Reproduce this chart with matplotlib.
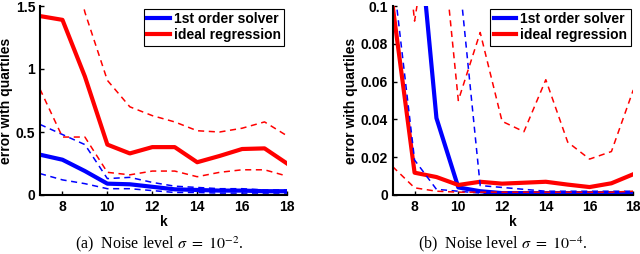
import numpy as np
import matplotlib.pyplot as plt

plt.rcParams['font.family'] = ['Liberation Sans', 'DejaVu Sans']
plt.rcParams['mathtext.fontset'] = 'stix'

k = [7, 8, 9, 10, 11, 12, 13, 14, 15, 16, 17, 18]

# --- (a) sigma = 1e-2 ---
a_blue_med = [0.32, 0.28, 0.19, 0.09, 0.085, 0.065, 0.045, 0.04, 0.035, 0.035, 0.03, 0.03]
a_blue_hi = [0.56, 0.48, 0.40, 0.13, 0.14, 0.10, 0.07, 0.06, 0.05, 0.05, 0.04, 0.04]
a_blue_lo = [0.17, 0.12, 0.09, 0.05, 0.05, 0.035, 0.02, 0.02, 0.015, 0.015, 0.015, 0.015]
a_red_med = [1.42, 1.39, 0.94, 0.40, 0.33, 0.38, 0.38, 0.26, 0.31, 0.365, 0.37, 0.25]
a_red_hi = [2.5, 2.2, 1.45, 0.91, 0.70, 0.63, 0.58, 0.51, 0.50, 0.53, 0.58, 0.47]
a_red_lo = [0.84, 0.46, 0.46, 0.18, 0.16, 0.19, 0.19, 0.145, 0.18, 0.20, 0.20, 0.15]

# --- (b) sigma = 1e-4 ---
b_blue_med = [0.30, 0.164, 0.0407, 0.004, 0.002, 0.001, 0.001, 0.001, 0.001, 0.001, 0.001, 0.001]
b_blue_hi = [0.5, 0.4, 0.3, 0.12, 0.005, 0.004, 0.003, 0.002, 0.002, 0.002, 0.002, 0.002]
b_blue_lo = [0.118, 0.0185, 0.003, 0.002, 0.001, 0.0005, 0.0005, 0.0005, 0.0005, 0.0005, 0.0005, 0.0005]
b_red_med = [0.1, 0.0118, 0.0095, 0.0053, 0.007, 0.006, 0.0065, 0.007, 0.0055, 0.0042, 0.0062, 0.011]
b_red_hi = [0.2, 0.092, 0.166, 0.05, 0.086, 0.039, 0.0335, 0.061, 0.028, 0.019, 0.023, 0.0556]
b_red_lo = [0.015, 0.0038, 0.002, 0.0015, 0.0015, 0.0015, 0.0015, 0.0015, 0.0015, 0.0015, 0.0015, 0.002]

captions = [r"(a)  Noise level $\sigma\ =\ 10^{-2}$.", r"(b)  Noise level $\sigma\ =\ 10^{-4}$."]

fig = plt.figure(figsize=(6.4, 2.54), dpi=100)
ax1 = fig.add_axes([40 / 640, 59 / 254, 247 / 640, 189 / 254])
ax2 = fig.add_axes([392.7 / 640, 59 / 254, 240.6 / 640, 189 / 254])


def panel(ax, bmed, bhi, blo, rmed, rhi, rlo, ymax, yticks, yticklabels):
    ax.plot(k, bmed, color='blue', lw=3.0, label='1st order solver')
    ax.plot(k, rmed, color='red', lw=3.0, label='ideal regression')
    ax.plot(k, bhi, color='blue', lw=1.1, ls=(0, (4, 3)))
    ax.plot(k, blo, color='blue', lw=1.1, ls=(0, (4, 3)))
    ax.plot(k, rhi, color='red', lw=1.1, ls=(0, (4, 3)))
    ax.plot(k, rlo, color='red', lw=1.1, ls=(0, (4, 3)))
    ax.set_xlim(7, 18)
    ax.set_ylim(0, ymax)
    ax.set_xticks([8, 10, 12, 14, 16, 18])
    ax.set_yticks(yticks)
    ax.set_yticklabels(yticklabels)
    for s in ['top', 'right']:
        ax.spines[s].set_visible(False)
    for s in ['left', 'bottom']:
        ax.spines[s].set_linewidth(1.5)
    ax.tick_params(direction='in', length=3, width=1, labelsize=10)
    for lab in ax.get_xticklabels() + ax.get_yticklabels():
        lab.set_fontweight('bold')
    ax.set_xlabel('k', fontsize=10, fontweight='bold', labelpad=1)
    ax.set_ylabel('error with quartiles', fontsize=10, fontweight='bold', labelpad=2)
    leg = ax.legend(loc='upper right', prop={'weight': 'bold', 'size': 10},
                    handlelength=1.6, handletextpad=0.3, borderpad=0.25,
                    labelspacing=0.15, fancybox=False, framealpha=1,
                    borderaxespad=0.2)
    leg.get_frame().set_edgecolor('black')
    leg.get_frame().set_linewidth(0.8)


panel(ax1, a_blue_med, a_blue_hi, a_blue_lo, a_red_med, a_red_hi, a_red_lo,
      1.5, [0, 0.5, 1, 1.5], ['0', '0.5', '1', '1.5'])
panel(ax2, b_blue_med, b_blue_hi, b_blue_lo, b_red_med, b_red_hi, b_red_lo,
      0.1, [0, 0.02, 0.04, 0.06, 0.08, 0.1], ['0', '0.02', '0.04', '0.06', '0.08', '0.1'])

fig.text(159 / 640, 1 - 244 / 254, captions[0], ha='center', va='center',
         fontsize=11.5, family='Liberation Serif')
fig.text(503 / 640, 1 - 244 / 254, captions[1], ha='center', va='center',
         fontsize=11.5, family='Liberation Serif')

fig.savefig('out.png', dpi=100)
